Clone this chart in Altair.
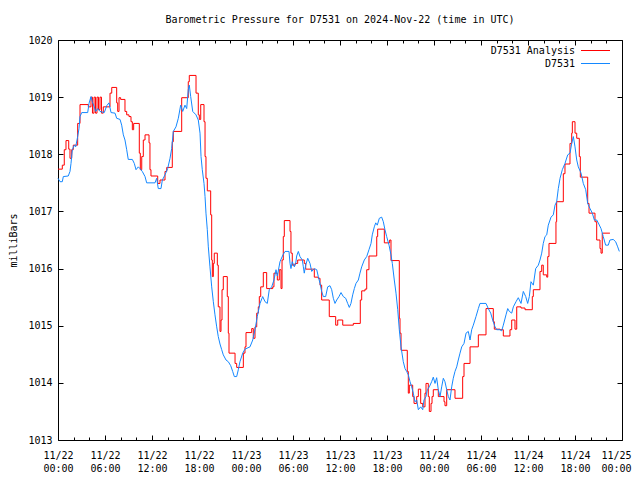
import altair as alt
import pandas as pd

# ---- data (hours since 2024-11-22 00:00 UTC, pressure in mbar) ----
red_hours = [0.00, 0.55, 0.80, 1.02, 1.37, 1.53, 1.75, 1.95, 2.51, 2.81, 3.87, 4.21, 4.40, 4.60, 4.79, 4.98, 5.17, 5.36, 5.55, 5.78,
             6.64, 6.86, 7.49, 7.62, 7.79, 8.00, 8.55, 8.77, 9.06, 9.32, 9.49, 9.66, 10.38, 10.51, 10.69, 10.89, 11.11, 11.62, 11.74, 11.87,
             12.73, 13.02, 13.66, 13.88, 14.59, 14.72, 15.79, 16.63, 16.76, 17.62, 17.91, 18.04, 18.22, 18.64, 18.77, 18.89, 19.06, 19.49, 19.62, 19.70,
             19.83, 19.95, 20.34, 20.46, 20.68, 20.81, 20.94, 21.10, 21.61, 21.74, 21.83, 22.60, 22.81, 23.66, 23.87, 24.00, 24.73, 24.93, 25.15, 25.37,
             25.57, 25.70, 25.88, 26.21, 26.64, 27.41, 27.57, 28.00, 28.25, 28.47, 28.60, 28.76, 28.89, 29.62, 29.74, 29.91, 30.26, 30.60, 31.44, 31.62,
             32.72, 33.23, 33.45, 33.66, 34.63, 35.45, 35.71, 36.35, 37.70, 38.59, 38.77, 39.19, 39.41, 39.70, 40.69, 40.81, 41.66, 42.34, 42.51, 43.57,
             43.66, 43.79, 44.59, 44.72, 44.85, 45.28, 45.45, 45.79, 46.00, 46.30, 46.56, 46.85, 46.98, 47.27, 47.40, 47.62, 47.75, 47.91, 48.55, 49.28,
             49.40, 49.62, 50.68, 51.66, 51.83, 52.60, 53.66, 54.64, 55.57, 55.70, 56.42, 56.85, 57.70, 57.92, 58.34, 58.56, 59.11, 59.62, 60.55, 60.68,
             61.53, 61.75, 61.95, 62.39, 62.52, 62.68, 63.57, 63.66, 64.51, 64.72, 65.36, 65.58, 65.66, 66.00, 66.22, 66.55, 66.68, 67.62, 67.79, 68.55,
             68.77, 69.19, 69.32, 69.48, 70.46]
red_mb = [1017.74, 1017.81, 1018.08, 1018.24, 1018.09, 1017.93, 1018.08, 1018.16, 1018.54, 1018.87, 1018.83, 1019.00, 1018.72, 1019.00, 1018.72, 1019.00, 1018.78, 1019.00, 1018.72, 1018.83,
          1019.07, 1019.17, 1018.90, 1018.75, 1018.99, 1018.96, 1018.75, 1018.69, 1018.66, 1018.57, 1018.43, 1018.54, 1018.02, 1017.73, 1017.96, 1018.25, 1018.34, 1018.20, 1017.73, 1017.62,
          1017.49, 1017.55, 1017.70, 1017.77, 1018.22, 1018.40, 1018.99, 1019.27, 1019.38, 1019.07, 1018.69, 1018.61, 1018.87, 1018.57, 1017.96, 1017.58, 1017.36, 1016.94, 1016.15, 1015.86,
          1016.09, 1016.27, 1016.06, 1015.33, 1014.90, 1015.10, 1015.63, 1015.86, 1015.51, 1014.87, 1014.52, 1014.34, 1014.27, 1014.52, 1014.63, 1014.88, 1014.95, 1014.78, 1014.98, 1015.22,
          1015.33, 1015.51, 1015.68, 1015.93, 1015.65, 1015.68, 1015.92, 1015.80, 1015.98, 1015.65, 1016.15, 1016.56, 1016.84, 1016.65, 1016.27, 1016.06, 1016.09, 1016.15, 1016.09, 1015.99,
          1015.85, 1015.83, 1015.71, 1015.45, 1015.16, 1015.01, 1015.10, 1015.01, 1015.04, 1015.45, 1015.61, 1015.64, 1015.98, 1016.22, 1016.56, 1016.69, 1016.45, 1016.50, 1016.14, 1015.13,
          1014.87, 1014.57, 1014.20, 1013.82, 1013.96, 1013.76, 1013.64, 1013.76, 1013.89, 1013.64, 1013.58, 1013.82, 1013.99, 1013.76, 1013.50, 1013.64, 1013.76, 1013.88, 1013.76, 1013.67,
          1013.60, 1013.88, 1013.73, 1014.11, 1014.34, 1014.63, 1014.84, 1015.30, 1015.07, 1014.94, 1014.93, 1014.82, 1014.93, 1015.10, 1014.94, 1015.33, 1015.31, 1015.28, 1015.51, 1015.63,
          1015.95, 1016.06, 1015.89, 1015.85, 1016.21, 1016.44, 1016.82, 1017.17, 1017.66, 1017.83, 1018.19, 1018.37, 1018.57, 1018.37, 1018.28, 1017.96, 1017.60, 1017.14, 1016.97, 1016.82,
          1016.50, 1016.35, 1016.27, 1016.62, 1016.62]

blue_hours = [0.00, 0.26, 0.55, 0.68, 1.31, 1.53, 1.66, 1.83, 2.08, 2.26, 2.51, 2.68, 2.81, 3.03, 3.79, 3.96, 4.21, 4.38, 4.63, 4.81,
              5.07, 5.36, 5.91, 6.22, 6.51, 6.77, 7.28, 7.49, 7.92, 8.13, 8.34, 8.55, 8.77, 8.97, 9.49, 9.74, 9.96, 10.25, 10.47, 10.76,
              11.11, 11.32, 12.38, 12.60, 12.80, 13.15, 13.32, 13.66, 14.00, 14.30, 14.51, 14.72, 15.06, 15.36, 15.66, 15.92, 16.21, 16.43, 16.63, 16.76,
              16.94, 17.20, 17.62, 17.91, 18.13, 18.26, 18.42, 18.64, 18.77, 18.89, 19.06, 19.19, 19.40, 19.62, 19.83, 20.04, 20.26, 20.46, 20.68, 20.90,
              21.10, 21.45, 21.74, 22.05, 22.30, 22.51, 22.81, 23.02, 23.23, 23.58, 23.87, 24.51, 24.86, 25.15, 25.44, 25.79, 26.13, 26.43, 26.72, 26.97,
              27.28, 27.57, 27.83, 28.00, 28.34, 28.72, 28.98, 29.49, 29.62, 29.74, 29.91, 30.17, 30.34, 30.47, 30.68, 30.89, 31.19, 31.32, 31.44, 31.62,
              31.88, 32.17, 32.39, 32.72, 33.03, 33.23, 33.45, 33.66, 33.87, 34.17, 34.43, 34.72, 34.94, 35.15, 35.36, 35.58, 35.87, 36.13, 36.42, 36.73,
              36.98, 37.19, 37.40, 37.62, 37.83, 38.04, 38.34, 38.55, 38.77, 39.10, 39.41, 39.70, 39.96, 40.12, 40.38, 40.56, 40.76, 41.02, 41.32, 41.53,
              41.74, 41.96, 42.26, 42.51, 42.68, 42.93, 43.15, 43.37, 43.57, 43.79, 44.08, 44.30, 44.51, 44.72, 44.94, 45.15, 45.36, 45.57, 45.79, 46.00,
              46.30, 46.56, 46.72, 46.98, 47.15, 47.40, 47.70, 47.91, 48.13, 48.34, 48.55, 48.77, 48.98, 49.19, 49.40, 49.62, 49.83, 50.04, 50.26, 50.46,
              50.68, 50.90, 51.10, 51.32, 51.54, 51.83, 52.09, 52.38, 52.60, 52.81, 53.02, 53.36, 53.66, 53.87, 54.64, 54.93, 55.24, 55.49, 55.79, 56.00,
              56.42, 56.64, 56.85, 57.19, 57.41, 57.62, 57.92, 58.13, 58.47, 58.76, 59.11, 59.40, 59.71, 59.96, 60.17, 60.38, 60.68, 60.98, 61.32, 61.53,
              61.75, 61.95, 62.17, 62.39, 62.59, 62.94, 63.23, 63.45, 63.66, 63.87, 64.09, 64.38, 64.72, 65.07, 65.36, 65.58, 65.79, 66.00, 66.22, 66.42,
              66.77, 67.06, 67.37, 67.62, 67.92, 68.21, 68.47, 68.77, 68.97, 69.32, 69.61, 69.91, 70.25, 70.46, 70.88, 71.19, 71.45, 71.66]
blue_mb = [1017.58, 1017.52, 1017.52, 1017.61, 1017.62, 1017.70, 1017.84, 1018.08, 1018.16, 1018.13, 1018.31, 1018.45, 1018.66, 1018.73, 1018.73, 1018.89, 1019.01, 1018.92, 1018.83, 1018.75,
           1018.80, 1018.75, 1018.73, 1018.85, 1018.90, 1018.73, 1018.72, 1018.63, 1018.61, 1018.51, 1018.34, 1018.25, 1018.08, 1017.91, 1017.91, 1017.84, 1017.73, 1017.78, 1017.75, 1017.70,
           1017.61, 1017.50, 1017.50, 1017.58, 1017.40, 1017.40, 1017.55, 1017.64, 1017.75, 1017.93, 1018.10, 1018.40, 1018.48, 1018.63, 1018.86, 1018.75, 1018.86, 1018.80, 1019.13, 1019.21,
           1019.01, 1018.75, 1018.69, 1018.60, 1018.37, 1017.96, 1017.73, 1017.49, 1017.26, 1016.97, 1016.68, 1016.38, 1016.03, 1015.68, 1015.42, 1015.19, 1014.98, 1014.81, 1014.68, 1014.58,
           1014.49, 1014.40, 1014.37, 1014.30, 1014.20, 1014.11, 1014.11, 1014.23, 1014.37, 1014.52, 1014.59, 1014.63, 1014.75, 1014.93, 1015.16, 1015.39, 1015.51, 1015.42, 1015.39, 1015.63,
           1015.68, 1015.80, 1015.98, 1015.87, 1016.12, 1016.24, 1016.30, 1016.30, 1016.09, 1016.00, 1016.12, 1016.03, 1016.09, 1016.22, 1016.30, 1016.21, 1016.15, 1016.03, 1015.92, 1016.06,
           1016.18, 1016.09, 1015.95, 1016.00, 1015.98, 1015.86, 1015.74, 1015.60, 1015.51, 1015.51, 1015.68, 1015.70, 1015.63, 1015.48, 1015.39, 1015.45, 1015.51, 1015.58, 1015.51, 1015.48,
           1015.39, 1015.32, 1015.39, 1015.54, 1015.65, 1015.74, 1015.80, 1015.92, 1016.03, 1016.15, 1016.21, 1016.33, 1016.44, 1016.59, 1016.73, 1016.80, 1016.76, 1016.88, 1016.90, 1016.82,
           1016.68, 1016.56, 1016.41, 1016.24, 1016.09, 1015.80, 1015.57, 1015.28, 1014.93, 1014.63, 1014.37, 1014.25, 1014.20, 1014.14, 1014.02, 1013.93, 1013.82, 1013.67, 1013.70, 1013.53,
           1013.58, 1013.53, 1013.70, 1013.76, 1013.88, 1013.93, 1014.02, 1014.10, 1013.99, 1014.09, 1013.88, 1013.76, 1013.93, 1014.08, 1014.02, 1013.88, 1013.76, 1013.70, 1013.93, 1014.08,
           1014.20, 1014.28, 1014.40, 1014.52, 1014.63, 1014.69, 1014.87, 1014.90, 1014.75, 1014.93, 1015.01, 1015.16, 1015.30, 1015.39, 1015.39, 1015.30, 1015.22, 1015.10, 1014.98, 1014.93,
           1014.93, 1014.91, 1015.01, 1015.19, 1015.30, 1015.25, 1015.22, 1015.33, 1015.42, 1015.49, 1015.39, 1015.60, 1015.51, 1015.39, 1015.51, 1015.77, 1015.71, 1016.00, 1016.06, 1016.15,
           1016.27, 1016.44, 1016.56, 1016.59, 1016.76, 1016.90, 1016.94, 1017.11, 1017.17, 1017.40, 1017.58, 1017.73, 1017.84, 1017.99, 1018.02, 1018.19, 1018.31, 1018.13, 1017.90, 1017.78,
           1017.67, 1017.49, 1017.38, 1017.14, 1017.05, 1016.97, 1016.85, 1016.85, 1016.80, 1016.70, 1016.56, 1016.41, 1016.41, 1016.50, 1016.51, 1016.47, 1016.38, 1016.30]

series_names = ["D7531 Analysis", "D7531"]
series_colors = ["#ff0000", "#1488ff"]
major_hours = list(range(0, 73, 6))
minor_hours = list(range(0, 73, 2))
y_ticks = list(range(1013, 1021))

title_text = "Barometric Pressure for D7531 on 2024-Nov-22 (time in UTC)"
y_title = "milliBars"

FONT = "DejaVu Sans Mono"
W, H = 564, 400

red_df = pd.DataFrame({"hour": red_hours, "mb": red_mb, "series": series_names[0]})
blue_df = pd.DataFrame({"hour": blue_hours, "mb": blue_mb, "series": series_names[1]})

xscale = alt.Scale(domain=[0, 72], nice=False, zero=False)
yscale = alt.Scale(domain=[1013, 1020], nice=False, zero=False)

legend = alt.Legend(
    orient="none", legendX=532, legendY=5, title=None,
    symbolType="M-2.9,0H2.9", symbolSize=100, symbolStrokeWidth=1,
    labelAlign="right", labelOffset={"expr": "-26"}, labelFont=FONT, labelFontSize=10,
    labelColor="black", rowPadding=2, padding=0, symbolOffset=0,
)
color = alt.Color("series:N", scale=alt.Scale(domain=series_names, range=series_colors), legend=legend)

label_expr = ("['11/' + (22 + floor(datum.value / 24)), "
              "((datum.value % 24) < 10 ? '0' : '') + (datum.value % 24) + ':00']")

tick_size_cond = {"condition": {"test": "datum.value % 6 === 0", "value": 5}, "value": 3}
last_label_shift = {"condition": {"test": "datum.value >= 72", "value": -6}, "value": 0}

common_nolabel = dict(labels=False, domain=False, grid=False, title=None, tickColor="black", tickWidth=1)

# layer 1: red line + outer labels
red = alt.Chart(red_df).mark_line(interpolate="step-after", strokeWidth=1).encode(
    x=alt.X("hour:Q", scale=xscale, axis=alt.Axis(
        orient="bottom", values=major_hours, ticks=False, tickSize=0, domain=False, grid=False,
        labelExpr=label_expr, labelFont=FONT, labelFontSize=10, labelColor="black",
        labelPadding=10, labelLineHeight=13, labelOverlap=False, labelFlush=False,
        labelOffset=last_label_shift, title=None)),
    y=alt.Y("mb:Q", scale=yscale, axis=alt.Axis(
        orient="left", values=y_ticks, ticks=False, tickSize=0, domain=False, grid=False,
        format="d", labelFont=FONT, labelFontSize=10, labelColor="black", labelPadding=6,
        labelOverlap=False, labelFlush=False,
        title=y_title, titleFont=FONT, titleFontSize=10, titleFontWeight="normal", titleColor="black",
        titleX=-45, titleY=200, titleAngle=270, titleAlign="center", titleBaseline="middle")),
    color=color,
)

# layer 2: blue line + inward ticks on bottom and left
blue = alt.Chart(blue_df).mark_line(strokeWidth=1).encode(
    x=alt.X("hour:Q", scale=xscale, axis=alt.Axis(
        orient="top", offset={"expr": str(-H)}, values=minor_hours, tickSize=tick_size_cond, **common_nolabel)),
    y=alt.Y("mb:Q", scale=yscale, axis=alt.Axis(
        orient="right", offset={"expr": str(-W)}, values=y_ticks, tickSize=5, **common_nolabel)),
    color=color,
)

# layer 3: invisible, carries inward ticks on top and right
mirror = alt.Chart(blue_df).mark_line(opacity=0).encode(
    x=alt.X("hour:Q", scale=xscale, axis=alt.Axis(
        orient="bottom", offset={"expr": str(-H)}, values=minor_hours, tickSize=tick_size_cond, **common_nolabel)),
    y=alt.Y("mb:Q", scale=yscale, axis=alt.Axis(
        orient="left", offset={"expr": str(-W)}, values=y_ticks, tickSize=5, **common_nolabel)),
)

chart = alt.layer(red, blue, mirror).resolve_axis(x="independent", y="independent").properties(
    width=W, height=H,
    title=alt.Title(title_text, font=FONT, fontSize=10, fontWeight="normal", color="black",
                    anchor="middle", baseline="bottom", offset=0),
    autosize=alt.AutoSizeParams(type="none"),
    padding={"left": 50, "top": 32, "right": 10, "bottom": 32},
    background="white",
).configure_view(stroke="black", strokeWidth=1)

chart.save("out.html", embed_options={"renderer": "svg", "actions": False})
